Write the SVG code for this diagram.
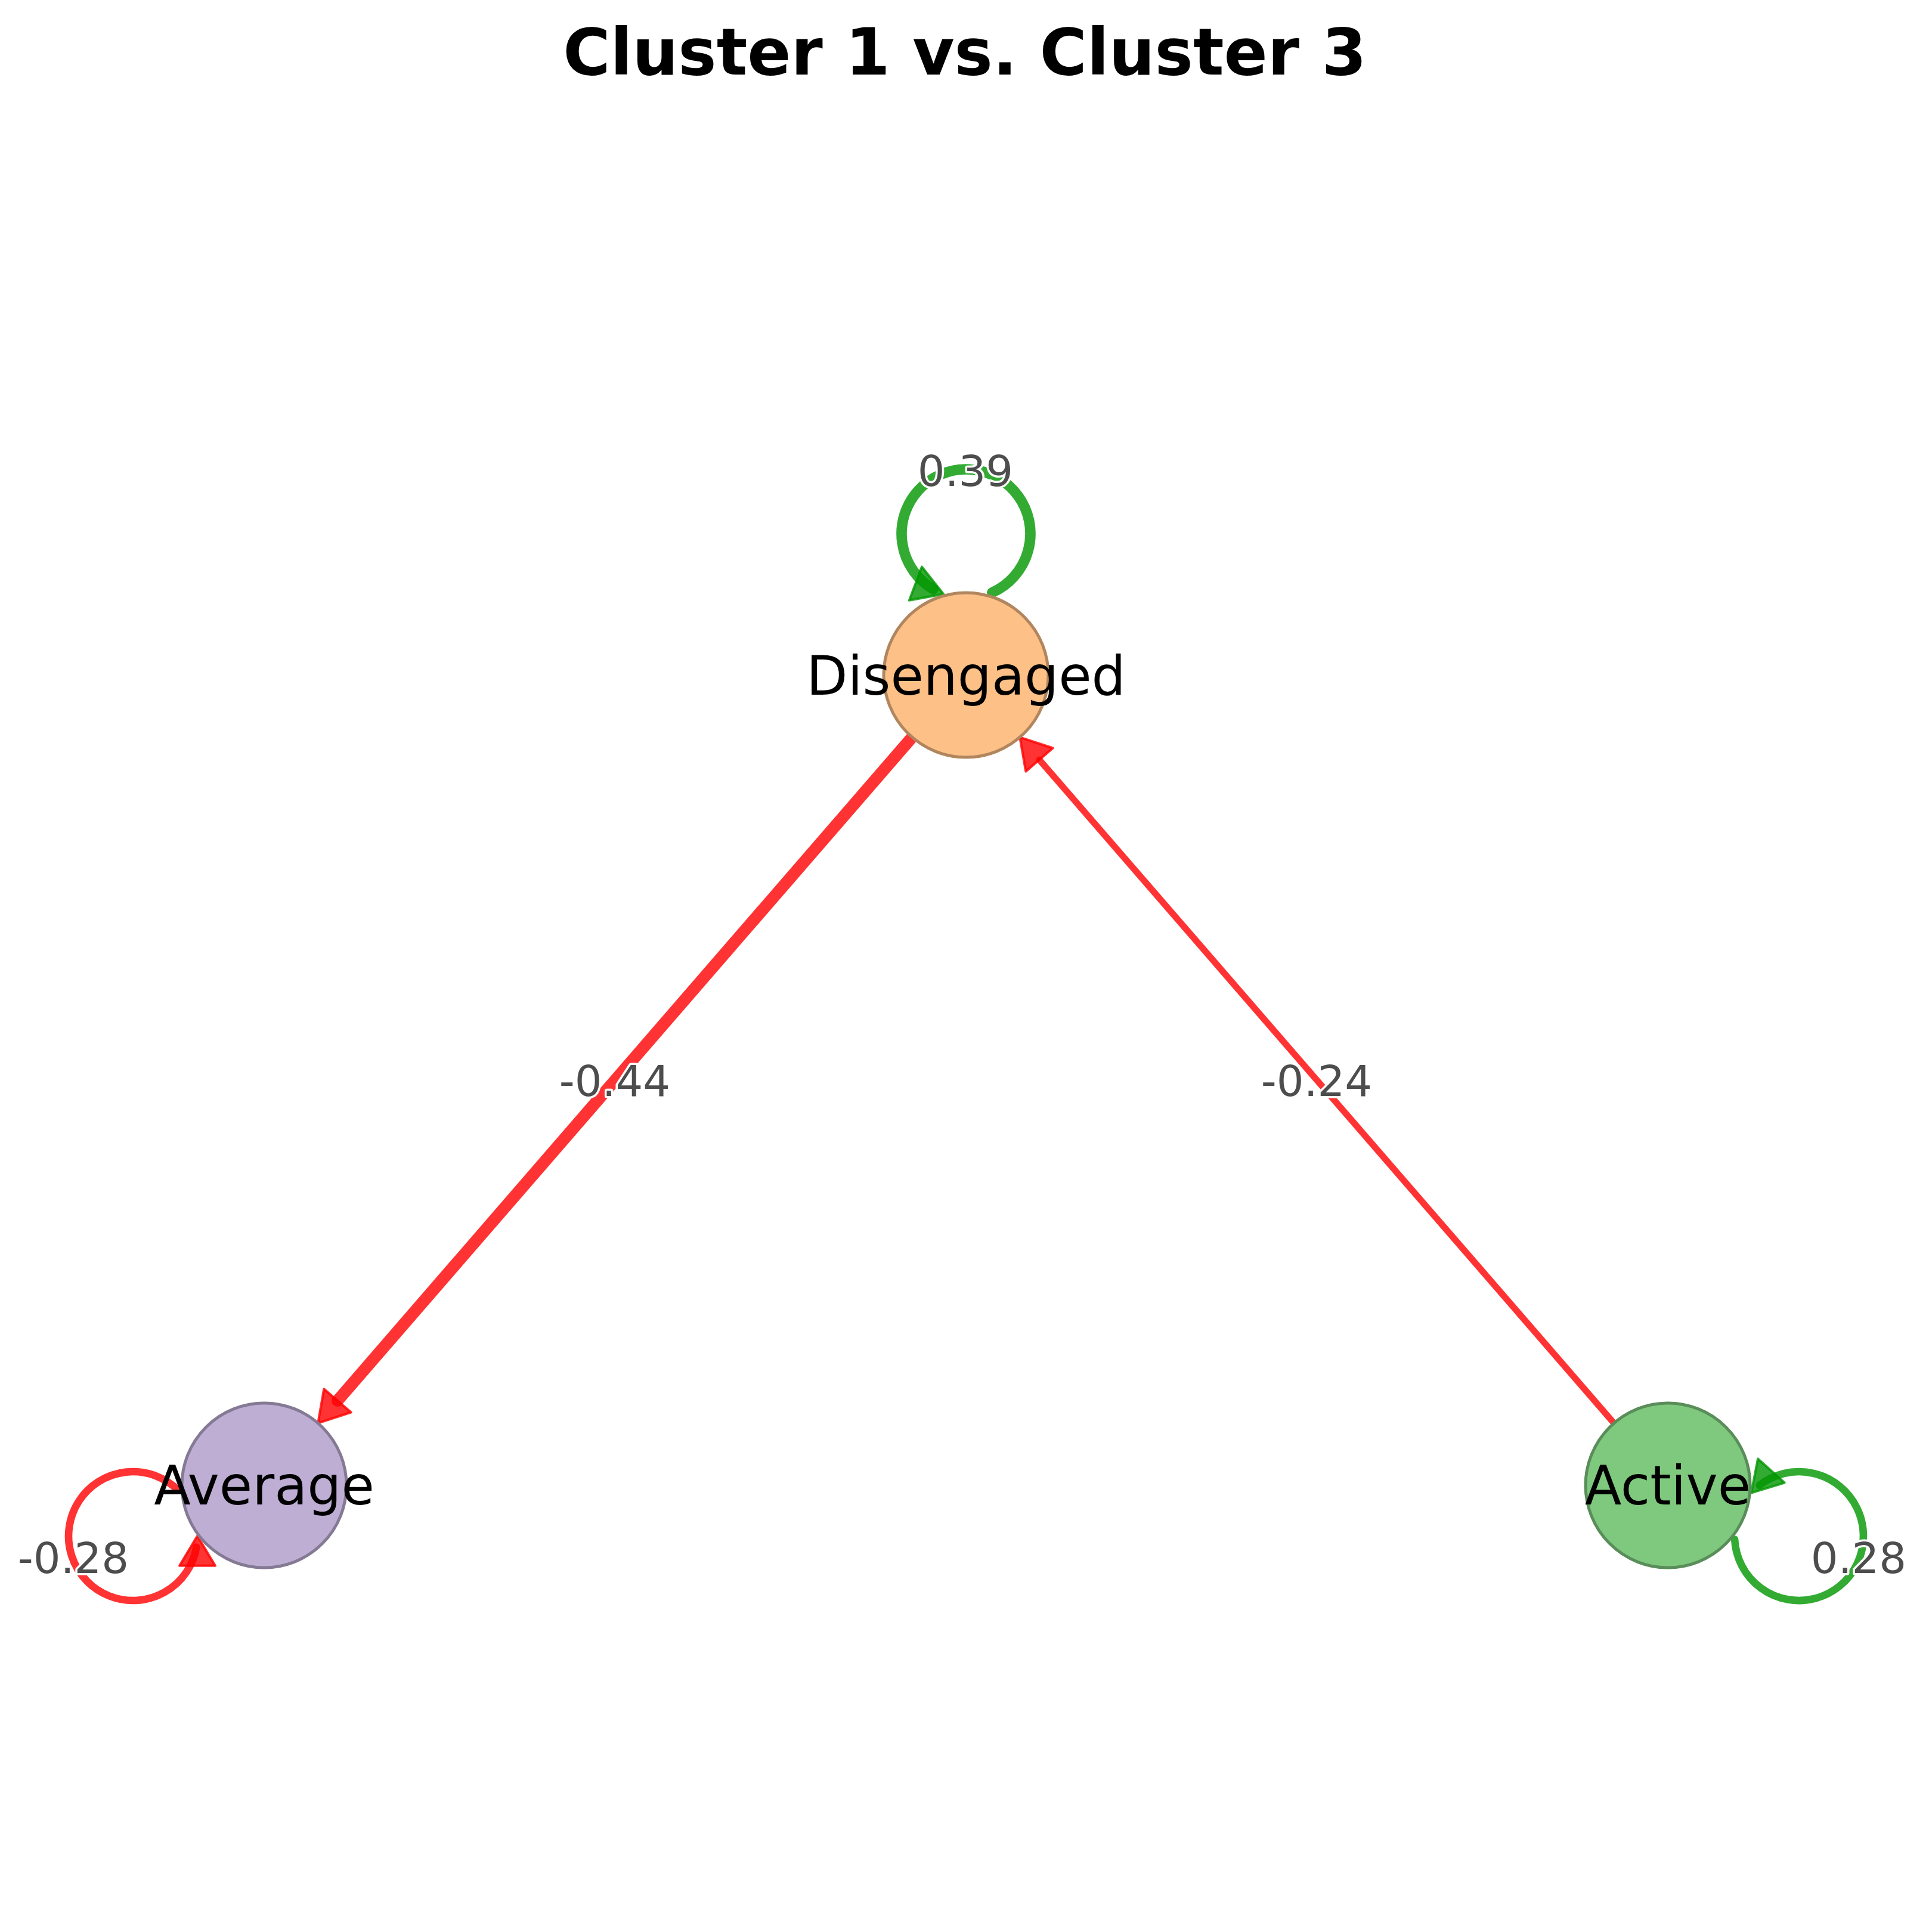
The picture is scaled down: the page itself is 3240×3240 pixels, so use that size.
<svg xmlns="http://www.w3.org/2000/svg" width="3240" height="3240" viewBox="0 0 3240 3240">
<style>
.title{font-family:"DejaVu Sans",sans-serif;font-weight:bold;font-size:108px;fill:#000;text-anchor:middle}
.nlabel{font-family:"DejaVu Sans",sans-serif;font-size:90px;fill:#000;text-anchor:middle}
.elabel{font-family:"DejaVu Sans",sans-serif;font-size:72px;fill:#4d4d4d;text-anchor:middle;stroke:#fff;stroke-width:7px;paint-order:stroke;stroke-linejoin:round}
.red{stroke:#ff0000;stroke-opacity:0.8;fill:none;stroke-linecap:round}
.green{stroke:#009600;stroke-opacity:0.8;fill:none;stroke-linecap:round}
.hred{fill:#ff0000;fill-opacity:0.8;stroke:#ff0000;stroke-opacity:0.8;stroke-width:4;stroke-linejoin:round}
.hgreen{fill:#009600;fill-opacity:0.8;stroke:#009600;stroke-opacity:0.8;stroke-width:4;stroke-linejoin:round}
</style>
<rect width="3240" height="3240" fill="#fff"/>
<text class="title" x="1618" y="125">Cluster 1 vs. Cluster 3</text>

<g id="connectors">
  <!-- Disengaged -> Average -->
  <line class="red" x1="1529.7" y1="1236.3" x2="566" y2="2349" stroke-width="20"/>
  <polygon class="hred" points="533.3,2386.7 588.7,2368.5 543.3,2329.3"/>
  <!-- Active -> Disengaged -->
  <line class="red" x1="2706.7" y1="2386.7" x2="1743" y2="1274.1" stroke-width="10.8"/>
  <polygon class="hred" points="1710.3,1236.3 1765.7,1254.5 1720.3,1293.7"/>
  <!-- Disengaged self-loop -->
  <path class="green" d="M1663.9,993.7 A108,108 0 1 0 1565.2,988.1" stroke-width="17.6"/>
  <polygon class="hgreen" points="1582.2,996.2 1524.9,1006.8 1545.9,950.6"/>
  <!-- Average self-loop -->
  <path class="red" d="M299.2,2499.5 A108,108 0 1 0 329.4,2594.6" stroke-width="12.6"/>
  <polygon class="hred" points="331,2575.8 301,2625.8 361,2625.8"/>
  <!-- Active self-loop -->
  <path class="green" d="M2909.1,2581.5 A108,108 0 1 0 2950.7,2490.8" stroke-width="12.6"/>
  <polygon class="hgreen" points="2936.9,2503.6 2992.7,2486.6 2948.1,2446.4"/>
</g>

<g id="node-disengaged"><circle cx="1620" cy="1132" r="138" fill="#fdc086" stroke="#b1865e" stroke-width="5"/></g>
<g id="node-average"><circle cx="443" cy="2491" r="138" fill="#beaed4" stroke="#857a94" stroke-width="5"/></g>
<g id="node-active"><circle cx="2797" cy="2491" r="138" fill="#7fc97f" stroke="#598d59" stroke-width="5"/></g>

<g id="edge-labels">
  <text class="elabel" x="1031" y="1838">-0.44</text>
  <text class="elabel" x="2208" y="1838">-0.24</text>
  <text class="elabel" x="1619" y="815">0.39</text>
  <text class="elabel" x="123" y="2638">-0.28</text>
  <text class="elabel" x="3117" y="2638">0.28</text>
</g>

<g id="node-labels">
  <text class="nlabel" x="1620" y="1165">Disengaged</text>
  <text class="nlabel" x="443" y="2523">Average</text>
  <text class="nlabel" x="2797" y="2523">Active</text>
</g>
</svg>
